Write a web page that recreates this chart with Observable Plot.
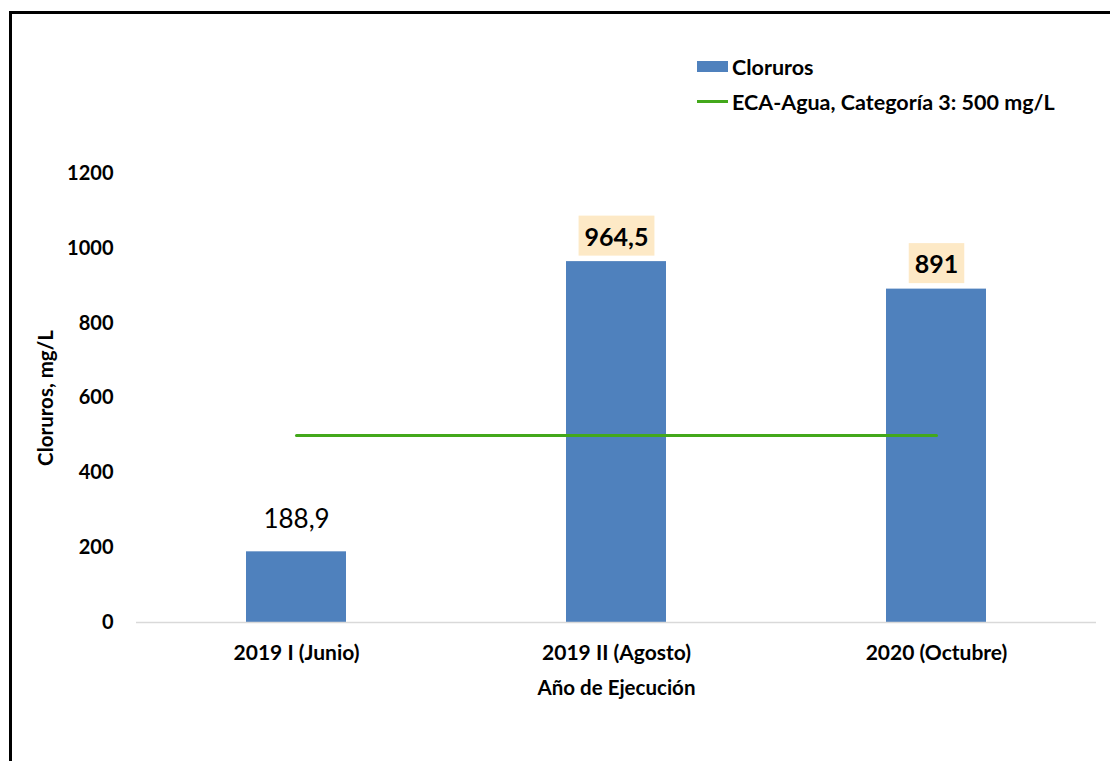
<!DOCTYPE html>
<html><head><meta charset="utf-8">
<script src="https://cdn.jsdelivr.net/npm/d3@7"></script>
<script src="https://cdn.jsdelivr.net/npm/@observablehq/plot@0.6"></script>
<style>
body{margin:0;background:#fff;font-family:Lato,sans-serif;}
#wrap{position:relative;width:1110px;height:761px;overflow:hidden;background:#fff;}
#frame{position:absolute;left:9px;top:11px;width:1300px;height:900px;border-left:3px solid #000;border-top:3px solid #000;}
#chart{position:absolute;left:0;top:0;}
#legend{position:absolute;left:697px;top:49px;font-weight:bold;font-size:21.5px;color:#000;line-height:30px;}
.row{display:flex;align-items:center;height:35px;}
.sw{width:31px;height:11px;background:#4f81bd;margin-right:4px;}
.ln{width:31px;height:3px;background:#43a81b;margin-right:4px;}
</style></head>
<body>
<div id="wrap">
  <div id="frame"></div>
  <div id="chart"></div>
  <div id="legend">
    <div class="row"><div class="sw"></div><span>Cloruros</span></div>
    <div class="row"><div class="ln"></div><span>ECA-Agua, Categoría 3: 500 mg/L</span></div>
  </div>
</div>
<script>
const categories = ["2019 I (Junio)", "2019 II (Agosto)", "2020 (Octubre)"];
const cloruros = [188.9, 964.5, 891];
const ecaLimit = 500;
const yTicks = [0, 200, 400, 600, 800, 1000, 1200];

const data = categories.map((c, i) => ({cat: c, value: cloruros[i]}));
const limitData = categories.map(c => ({cat: c, v: ecaLimit}));
const fmt = v => String(v).replace(".", ",");

const plot = Plot.plot({
  width: 1110, height: 761,
  marginLeft: 136, marginRight: 14, marginTop: 173, marginBottom: 139,
  style: {fontFamily: "Lato, sans-serif", background: "transparent", color: "#000"},
  x: {domain: categories, paddingInner: 0.6875, paddingOuter: 0.34375},
  y: {domain: [0, 1200]},
  marks: [
    Plot.barY(data, {x: "cat", y: "value", fill: "#4f81bd"}),
    Plot.ruleY([0], {stroke: "#d9d9d9", strokeWidth: 1.5}),
    Plot.line(limitData, {x: "cat", y: "v", stroke: "#43a81b", strokeWidth: 3}),
    Plot.axisX({tickSize: 0, tickPadding: 23, fontSize: 21, fontWeight: "bold", label: null}),
    Plot.axisY({ticks: yTicks, tickSize: 0, tickPadding: 23, fontSize: 20, fontWeight: "bold", label: null, tickFormat: d => String(d)}),
    Plot.text(["Año de Ejecución"], {frameAnchor: "bottom", dy: 66, fontSize: 20.5, fontWeight: "bold", lineAnchor: "middle"}),
    Plot.text(["Cloruros, mg/L"], {frameAnchor: "left", textAnchor: "middle", rotate: -90, dx: -90, fontSize: 20.5, fontWeight: "bold", lineAnchor: "middle"}),
    Plot.text(data.filter(d => d.value <= ecaLimit), {x: "cat", y: "value", text: d => fmt(d.value), dy: -32, fontSize: 26, lineAnchor: "middle"}),
    Plot.text(data.filter(d => d.value > ecaLimit), {x: "cat", y: "value", text: d => fmt(d.value), dy: -24, fontSize: 25, fontWeight: "bold", lineAnchor: "middle"})
  ]
});
document.getElementById("chart").appendChild(plot);

// beige highlight boxes behind the exceedance labels (bold data labels)
const labelGroups = Array.from(plot.querySelectorAll('g[aria-label="text"]'))
  .filter(g => g.getAttribute("font-weight") === "bold" && g.getAttribute("font-size") === "25");
labelGroups.forEach(g => {
  g.querySelectorAll("text").forEach(t => {
    const b = t.getBBox();
    const r = document.createElementNS("http://www.w3.org/2000/svg", "rect");
    r.setAttribute("x", b.x - 6);
    r.setAttribute("y", b.y - 5);
    r.setAttribute("width", b.width + 12);
    r.setAttribute("height", b.height + 10);
    r.setAttribute("fill", "#fde9c6");
    const tr = t.getAttribute("transform");
    if (tr) r.setAttribute("transform", tr);
    g.insertBefore(r, t);
  });
});
</script>
</body></html>
